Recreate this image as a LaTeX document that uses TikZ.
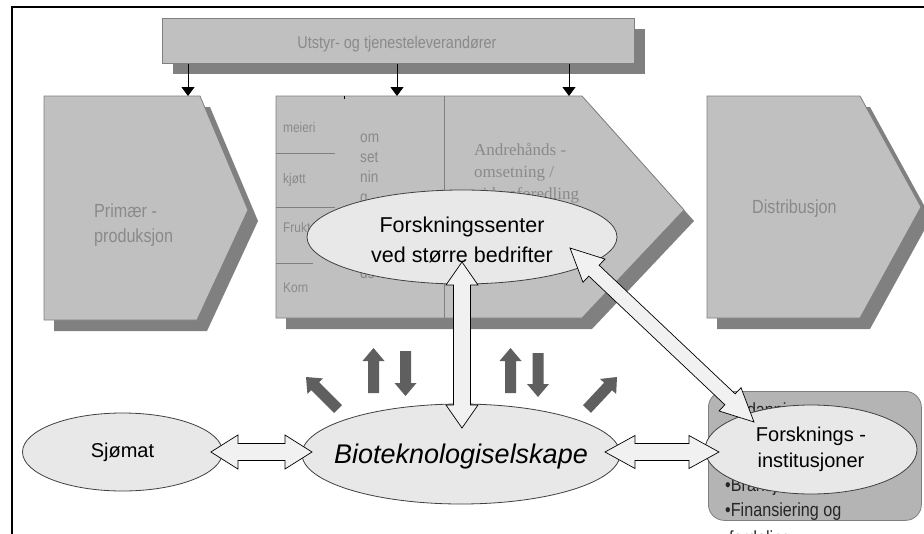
\documentclass[tikz,border=0pt]{standalone}
\usepackage{fontspec}
\setmainfont{Liberation Sans}
\newfontfamily\narrowfont[FakeStretch=0.85]{Liberation Sans}
\newfontfamily\timesfont{Liberation Serif}
\usetikzlibrary{shapes.geometric,calc,arrows.meta}
\definecolor{chev}{HTML}{C0C0C0}
\definecolor{shad}{HTML}{808080}
\definecolor{edgec}{HTML}{7F7F7F}
\definecolor{gtext}{HTML}{8A8A8A}
\definecolor{ellfill}{HTML}{E8E8E8}
\definecolor{darkarr}{HTML}{5F5F5F}
\definecolor{panelc}{HTML}{B4B4B4}
\tikzset{
  chevron/.style={fill=chev, draw=edgec, line width=0.8pt, line join=miter},
  shadowfill/.style={fill=shad},
  bubble/.style={ellipse, fill=ellfill, draw=black!75, line width=0.8pt, inner sep=0pt},
  etext/.style={inner sep=0pt, align=center, text=black},
  hollowarr/.style={fill=ellfill!60!white, draw=black, line width=0.7pt, line join=miter},
  solidarr/.style={fill=darkarr},
  graytxt/.style={text=gtext, inner sep=0pt, align=left, font=\narrowfont\fontsize{19}{25}\selectfont},
  smalltxt/.style={text=gtext, inner sep=0pt, font=\narrowfont\fontsize{14}{18}\selectfont},
  colt/.style={text=gtext, inner sep=0pt, align=left, font=\narrowfont\fontsize{16}{20}\selectfont},
  paneltext/.style={inner sep=0pt, text=black!85, font=\narrowfont\fontsize{19}{25}\selectfont},
  divider/.style={draw=edgec, line width=0.8pt},
  droparrow/.style={-{Triangle[width=13pt,length=9pt]}, line width=1pt, black}
}
\newcommand\hollowarrow[5]{%
  \path let \p1=(#1), \p2=(#2) in \pgfextra{%
    \pgfmathsetmacro\hAng{atan2(\y2-\y1,\x2-\x1)}%
    \pgfmathsetmacro\hLen{veclen(\x2-\x1,\y2-\y1)}%
    \xdef\hAngG{\hAng}\xdef\hLenG{\hLen}};
  \begin{scope}[shift={(#1)},rotate=\hAngG]
    \filldraw[hollowarr] (0pt,0pt) -- (#5pt,#4pt) -- (#5pt,#3pt)
      -- ({(\hLenG-#5)*1pt},#3pt) -- ({(\hLenG-#5)*1pt},#4pt) -- ({\hLenG*1pt},0pt)
      -- ({(\hLenG-#5)*1pt},-#4pt) -- ({(\hLenG-#5)*1pt},-#3pt) -- (#5pt,-#3pt) -- (#5pt,-#4pt) -- cycle;
  \end{scope}}
\newcommand\solidarrow[2]{%
  \path let \p1=(#1), \p2=(#2) in \pgfextra{%
    \pgfmathsetmacro\sAng{atan2(\y2-\y1,\x2-\x1)}%
    \pgfmathsetmacro\sLen{veclen(\x2-\x1,\y2-\y1)}%
    \xdef\sAngG{\sAng}\xdef\sLenG{\sLen}};
  \begin{scope}[shift={(#1)},rotate=\sAngG]
    \fill[solidarr] (0pt,-5.5pt) -- ({(\sLenG-13)*1pt},-5.5pt) -- ({(\sLenG-13)*1pt},-11pt)
      -- ({\sLenG*1pt},0pt) -- ({(\sLenG-13)*1pt},11pt) -- ({(\sLenG-13)*1pt},5.5pt) -- (0pt,5.5pt) -- cycle;
  \end{scope}}
\begin{document}
\begin{tikzpicture}[x=1pt,y=-1pt]
\useasboundingbox (0,0) rectangle (924,533);
\clip (0,0) rectangle (924,533);
\fill[white] (0,0) rectangle (924,533);
% frame
\draw[line width=2pt] (12,540) -- (12,7) -- (930,7);

% supplier bar
\fill[shadowfill] (173,29) rectangle (645,74);
\node[draw=edgec, fill=chev, line width=0.8pt, minimum width=472pt, minimum height=45pt, anchor=north west, inner sep=0pt] (sup) at (162,18) {};
\node[text=gtext, inner sep=0pt, anchor=base, font=\narrowfont\fontsize{17}{20}\selectfont] (suptxt) at (397,48) {Utstyr- og tjenesteleverandører};

% chevron shadows
\fill[shadowfill] (54,107) -- (210,107) -- (258,221) -- (207,331) -- (54,331) -- cycle;
\fill[shadowfill] (286,107) -- (592,107) -- (694,221) -- (592,329) -- (286,329) -- cycle;
\fill[shadowfill] (717,107) -- (870,107) -- (931,218) -- (870,329) -- (717,329) -- cycle;
% chevrons
\filldraw[chevron] (44,96) -- (200,96) -- (248,210) -- (197,320) -- (44,320) -- cycle;
\filldraw[chevron] (276,96) -- (582,96) -- (684,210) -- (582,318) -- (276,318) -- cycle;
\filldraw[chevron] (707,96) -- (860,96) -- (921,207) -- (860,318) -- (707,318) -- cycle;

% internal lines of the middle chevron
\draw[divider] (444,96) -- (444,318);
\draw[divider] (276,153) -- (335,153);
\draw[divider] (276,207) -- (335,207);
\draw[divider] (276,263) -- (313,263);
\draw[black, line width=0.8pt] (344,96) -- (344,99);

% gray texts (base anchor of a multi-line node = last line)
\node[graytxt, anchor=base west] (prim) at (94,242) {Primær -\\produksjon};
\node[graytxt, anchor=base west] (dist) at (752,213) {Distribusjon};
\node[smalltxt, anchor=base west] (meieri) at (283,132) {meieri};
\node[smalltxt, anchor=base west] (kjott) at (283,183) {kjøtt};
\node[smalltxt, anchor=base west] (frukt) at (283,232) {Frukt};
\node[smalltxt, anchor=base west] (korn) at (283,292) {Korn};
\node[colt, anchor=base west] (omset) at (360,202) {om\\set\\nin\\g};
\node[colt, anchor=base west] (ds) at (360,278) {ds};
\node[anchor=base west, align=left, text=gtext, inner sep=0pt, font=\timesfont\fontsize{17}{22}\selectfont] (andre) at (474,199) {Andrehånds -\\omsetning /\\videreforedling};

% research institutions panel
\node[draw=edgec, fill=panelc, line width=0.8pt, rounded corners=16pt, minimum width=213pt, minimum height=129pt, anchor=north west, inner sep=0pt] (panel) at (708,391) {};
\node[paneltext, anchor=base west] (p1) at (725,416) {•Utdanning};
\node[paneltext, anchor=base west] (p4) at (725,491) {•Bransje};
\node[paneltext, anchor=base west] (p5) at (725,516) {•Finansiering og};
\node[paneltext, anchor=base west] (p6) at (729,544) {fordeling};

% drop arrows from the supplier bar
\coordinate (t1) at (188,96);
\coordinate (t2) at (397,96);
\coordinate (t3) at (569,96);
\draw[droparrow] (sup.south -| t1) -- (t1);
\draw[droparrow] (sup.south -| t2) -- (t2);
\draw[droparrow] (sup.south -| t3) -- (t3);

% ellipses
\node[bubble, minimum width=310pt, minimum height=94pt] (forsc) at (462,237) {};
\node[etext, font=\fontsize{21.5}{30}\selectfont] (forsct) at ($(forsc.center)+(0,2.5)$) {Forskningssenter\\ved større bedrifter};
\node[bubble, minimum width=200pt, minimum height=78pt] (sjo) at (122.5,452) {};
\node[etext, font=\fontsize{20}{24}\selectfont] (sjot) at (sjo.center) {Sjømat};
\node[bubble, minimum width=318pt, minimum height=100pt] (bio) at (461,454) {};
\node[etext, font=\itshape\fontsize{27}{32}\selectfont] (biot) at ($(bio.center)+(0,3)$) {Bioteknologiselskape};
\node[bubble, minimum width=212pt, minimum height=89pt] (inst) at (811,449.5) {};
\node[etext, font=\fontsize{20}{26}\selectfont] (instt) at (inst.center) {Forsknings -\\institusjoner};

% hollow double arrows
\coordinate (a1s) at ($(sjo.east)+(-12,0)$);
\coordinate (a1e) at (312,452);
\coordinate (a2s) at (605,452);
\coordinate (a2e) at (719,452);
\coordinate (a3s) at (462,262);
\coordinate (a3e) at (462,428);
\coordinate (a4s) at (570,248);
\coordinate (a4e) at (754,422);
\hollowarrow{a1s}{a1e}{8.5}{17}{27}
\hollowarrow{a2s}{a2e}{8.5}{16.5}{30}
\hollowarrow{a3s}{a3e}{8.5}{16}{23}
\hollowarrow{a4s}{a4e}{7.5}{16}{33}

% solid dark arrows
\coordinate (d1a) at (373.5,393); \coordinate (d1b) at (373.5,348);
\coordinate (d2a) at (405.5,351); \coordinate (d2b) at (405.5,396);
\coordinate (d3a) at (510.5,393); \coordinate (d3b) at (510.5,348);
\coordinate (d4a) at (538,353);   \coordinate (d4b) at (538,397);
\coordinate (d5a) at (338,409);   \coordinate (d5b) at (306,377);
\coordinate (d6a) at (587,409);   \coordinate (d6b) at (617,377);
\solidarrow{d1a}{d1b}
\solidarrow{d2a}{d2b}
\solidarrow{d3a}{d3b}
\solidarrow{d4a}{d4b}
\solidarrow{d5a}{d5b}
\solidarrow{d6a}{d6b}
\end{tikzpicture}
\end{document}
